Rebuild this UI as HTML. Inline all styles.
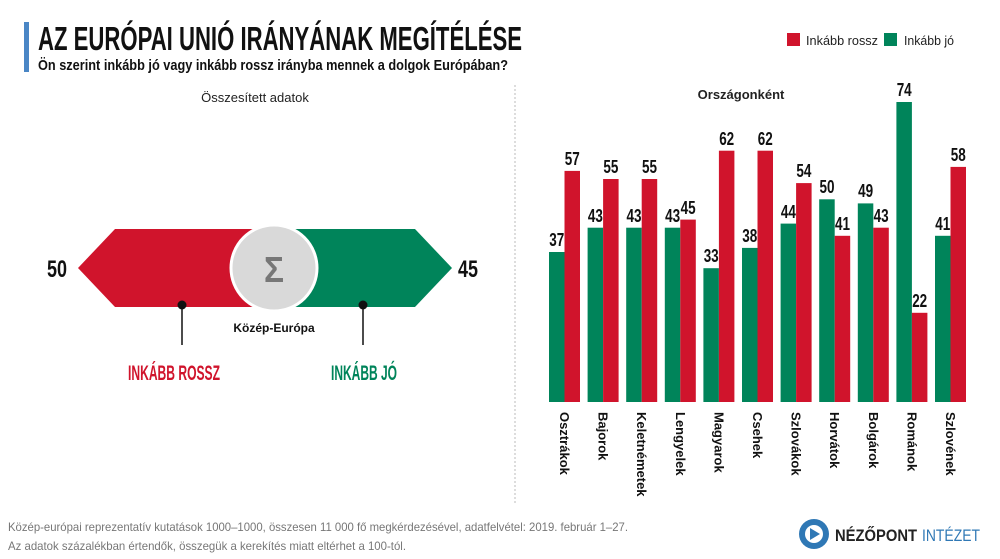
<!DOCTYPE html>
<html><head><meta charset="utf-8"><style>
html,body{margin:0;padding:0;background:#fff;}
svg{display:block}
.c{font-family:"Liberation Sans Narrow","Liberation Sans",sans-serif;font-weight:bold;}
.s{font-family:"Liberation Sans",sans-serif;}
.n{font-family:"Liberation Sans Narrow","Liberation Sans",sans-serif;font-weight:bold;font-size:18px;fill:#111;text-anchor:middle;}
.l{font-family:"Liberation Sans",sans-serif;font-weight:bold;font-size:13px;fill:#111;}
.g{fill:#00845a}.r{fill:#d0142c}
</style></head><body>
<svg width="1000" height="559" viewBox="0 0 1000 559" xmlns="http://www.w3.org/2000/svg">
<rect x="24" y="22" width="5" height="50" fill="#4a86c5"/>
<text x="38" y="50" class="c" font-size="33" fill="#111" textLength="484" lengthAdjust="spacingAndGlyphs">AZ EURÓPAI UNIÓ IRÁNYÁNAK MEGÍTÉLÉSE</text>
<text x="38" y="70" class="s" font-weight="bold" font-size="15" fill="#111" textLength="470" lengthAdjust="spacingAndGlyphs">Ön szerint inkább jó vagy inkább rossz irányba mennek a dolgok Európában?</text>
<rect x="787" y="33" width="13" height="13" fill="#d0142c"/>
<text x="806" y="45" class="s" font-size="13" fill="#222" textLength="72" lengthAdjust="spacingAndGlyphs">Inkább rossz</text>
<rect x="884" y="33" width="13" height="13" fill="#00845a"/>
<text x="904" y="45" class="s" font-size="13" fill="#222" textLength="50" lengthAdjust="spacingAndGlyphs">Inkább jó</text>
<text x="255" y="102" text-anchor="middle" class="s" font-size="13" fill="#222">Összesített adatok</text>
<text x="741" y="99" text-anchor="middle" class="s" font-weight="bold" font-size="13" fill="#222">Országonként</text>
<line x1="515" y1="85" x2="515" y2="505" stroke="#bbb" stroke-dasharray="2,2"/>
<polygon points="78,268 115,229 262,229 262,307 115,307" fill="#d0142c"/>
<polygon points="290,229 415,229 452,268 415,307 290,307" fill="#00845a"/>
<circle cx="274" cy="268" r="43" fill="#d9d9d9" stroke="#fff" stroke-width="3"/>
<text x="274" y="282" text-anchor="middle" class="s" font-weight="bold" font-size="36" fill="#777" textLength="20" lengthAdjust="spacingAndGlyphs">Σ</text>
<text x="67" y="277" text-anchor="end" class="c" font-size="24" fill="#111" textLength="20" lengthAdjust="spacingAndGlyphs">50</text>
<text x="458" y="277" class="c" font-size="24" fill="#111" textLength="20" lengthAdjust="spacingAndGlyphs">45</text>
<circle cx="182" cy="305" r="4.5" fill="#111"/><line x1="182" y1="305" x2="182" y2="345" stroke="#111" stroke-width="1.5"/>
<circle cx="363" cy="305" r="4.5" fill="#111"/><line x1="363" y1="305" x2="363" y2="345" stroke="#111" stroke-width="1.5"/>
<text x="274" y="332" text-anchor="middle" class="s" font-weight="bold" font-size="12" fill="#111">Közép-Európa</text>
<text x="128" y="380" class="c" font-size="21" fill="#d0142c" textLength="92" lengthAdjust="spacingAndGlyphs">INKÁBB ROSSZ</text>
<text x="331" y="380" class="c" font-size="21" fill="#00845a" textLength="66" lengthAdjust="spacingAndGlyphs">INKÁBB JÓ</text>

<rect class="g" x="549" y="252" width="15.5" height="150"/><rect class="r" x="564.5" y="170.9" width="15.5" height="231.1"/>
<rect class="g" x="587.6" y="227.7" width="15.5" height="174.3"/><rect class="r" x="603.1" y="179" width="15.5" height="223"/>
<rect class="g" x="626.2" y="227.7" width="15.5" height="174.3"/><rect class="r" x="641.7" y="179" width="15.5" height="223"/>
<rect class="g" x="664.8" y="227.7" width="15.5" height="174.3"/><rect class="r" x="680.3" y="219.6" width="15.5" height="182.4"/>
<rect class="g" x="703.4" y="268.2" width="15.5" height="133.8"/><rect class="r" x="718.9" y="150.7" width="15.5" height="251.3"/>
<rect class="g" x="742" y="247.9" width="15.5" height="154.1"/><rect class="r" x="757.5" y="150.7" width="15.5" height="251.3"/>
<rect class="g" x="780.6" y="223.6" width="15.5" height="178.4"/><rect class="r" x="796.1" y="183.1" width="15.5" height="218.9"/>
<rect class="g" x="819.2" y="199.3" width="15.5" height="202.7"/><rect class="r" x="834.7" y="235.8" width="15.5" height="166.2"/>
<rect class="g" x="857.8" y="203.4" width="15.5" height="198.6"/><rect class="r" x="873.3" y="227.7" width="15.5" height="174.3"/>
<rect class="g" x="896.4" y="102" width="15.5" height="300"/><rect class="r" x="911.9" y="312.8" width="15.5" height="89.2"/>
<rect class="g" x="935" y="235.8" width="15.5" height="166.2"/><rect class="r" x="950.5" y="166.9" width="15.5" height="235.1"/>

<g class="n">
<text x="556.8" y="246" textLength="15" lengthAdjust="spacingAndGlyphs">37</text><text x="572.3" y="165" textLength="15" lengthAdjust="spacingAndGlyphs">57</text>
<text x="595.4" y="222" textLength="15" lengthAdjust="spacingAndGlyphs">43</text><text x="610.9" y="173" textLength="15" lengthAdjust="spacingAndGlyphs">55</text>
<text x="634" y="222" textLength="15" lengthAdjust="spacingAndGlyphs">43</text><text x="649.5" y="173" textLength="15" lengthAdjust="spacingAndGlyphs">55</text>
<text x="672.6" y="222" textLength="15" lengthAdjust="spacingAndGlyphs">43</text><text x="688.1" y="214" textLength="15" lengthAdjust="spacingAndGlyphs">45</text>
<text x="711.2" y="262" textLength="15" lengthAdjust="spacingAndGlyphs">33</text><text x="726.7" y="145" textLength="15" lengthAdjust="spacingAndGlyphs">62</text>
<text x="749.8" y="242" textLength="15" lengthAdjust="spacingAndGlyphs">38</text><text x="765.3" y="145" textLength="15" lengthAdjust="spacingAndGlyphs">62</text>
<text x="788.4" y="218" textLength="15" lengthAdjust="spacingAndGlyphs">44</text><text x="803.9" y="177" textLength="15" lengthAdjust="spacingAndGlyphs">54</text>
<text x="827" y="193" textLength="15" lengthAdjust="spacingAndGlyphs">50</text><text x="842.5" y="230" textLength="15" lengthAdjust="spacingAndGlyphs">41</text>
<text x="865.6" y="197" textLength="15" lengthAdjust="spacingAndGlyphs">49</text><text x="881.1" y="222" textLength="15" lengthAdjust="spacingAndGlyphs">43</text>
<text x="904.2" y="96" textLength="15" lengthAdjust="spacingAndGlyphs">74</text><text x="919.7" y="307" textLength="15" lengthAdjust="spacingAndGlyphs">22</text>
<text x="942.8" y="230" textLength="15" lengthAdjust="spacingAndGlyphs">41</text><text x="958.3" y="161" textLength="15" lengthAdjust="spacingAndGlyphs">58</text>
</g>
<g class="l">
<text transform="translate(560,412) rotate(90)">Osztrákok</text>
<text transform="translate(598.6,412) rotate(90)">Bajorok</text>
<text transform="translate(637.2,412) rotate(90)">Keletnémetek</text>
<text transform="translate(675.8,412) rotate(90)">Lengyelek</text>
<text transform="translate(714.4,412) rotate(90)">Magyarok</text>
<text transform="translate(753,412) rotate(90)">Csehek</text>
<text transform="translate(791.6,412) rotate(90)">Szlovákok</text>
<text transform="translate(830.2,412) rotate(90)">Horvátok</text>
<text transform="translate(868.8,412) rotate(90)">Bolgárok</text>
<text transform="translate(907.4,412) rotate(90)">Románok</text>
<text transform="translate(946,412) rotate(90)">Szlovének</text>
</g>

<text x="8" y="531" class="s" font-size="12" fill="#777" textLength="620" lengthAdjust="spacingAndGlyphs">Közép-európai reprezentatív kutatások 1000–1000, összesen 11 000 fő megkérdezésével, adatfelvétel: 2019. február 1–27.</text>
<text x="8" y="550" class="s" font-size="12" fill="#777" textLength="398" lengthAdjust="spacingAndGlyphs">Az adatok százalékban értendők, összegük a kerekítés miatt eltérhet a 100-tól.</text>
<circle cx="814" cy="534" r="15" fill="#2f78b5"/><circle cx="814" cy="534" r="9" fill="#fff"/>
<polygon points="810,528 820,534 810,540" fill="#2f78b5"/>
<text x="835" y="541" class="s" font-weight="bold" font-size="17" fill="#222" textLength="82" lengthAdjust="spacingAndGlyphs">NÉZŐPONT</text>
<text x="922" y="541" class="s" font-size="17" fill="#2f78b5" textLength="58" lengthAdjust="spacingAndGlyphs">INTÉZET</text>
</svg>
</body></html>
